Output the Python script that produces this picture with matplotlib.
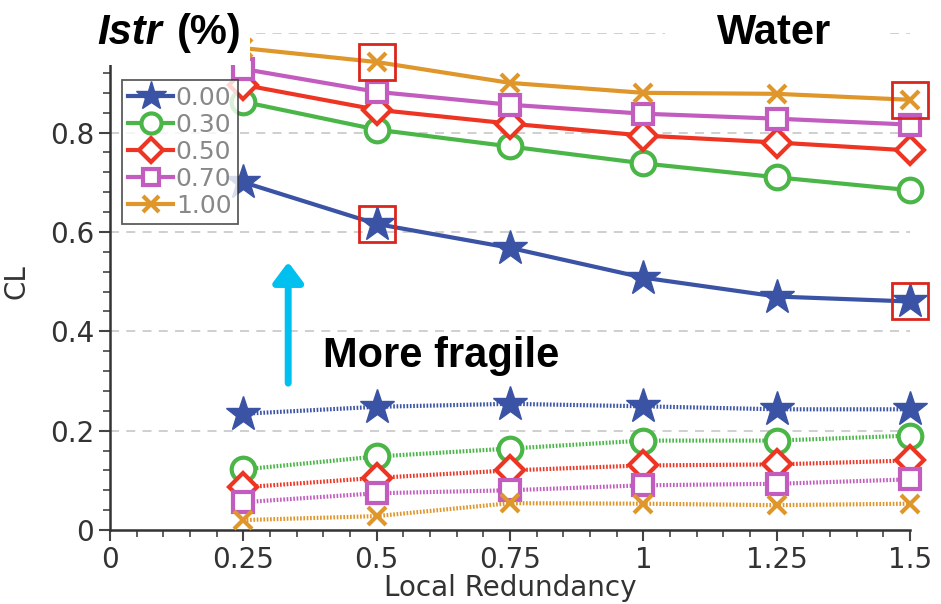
import matplotlib.pyplot as plt
from matplotlib.ticker import FixedLocator, MultipleLocator
from matplotlib.patches import Rectangle

plt.rcParams['font.family'] = ['Liberation Sans Narrow', 'DejaVu Sans']

redundancy = [0.25, 0.5, 0.75, 1.0, 1.25, 1.5]
labels = ['0.00', '0.30', '0.50', '0.70', '1.00']
colors = ['#3b53a4', '#4bb648', '#ee3524', '#c25dbf', '#df962b']
markers = ['*', 'o', 'D', 's', 'x']
x_ticks = [0, 0.25, 0.5, 0.75, 1.0, 1.25, 1.5]
x_ticklabels = ['0', '0.25', '0.5', '0.75', '1', '1.25', '1.5']
y_ticks = [0, 0.2, 0.4, 0.6, 0.8]
y_ticklabels = ['0', '0.2', '0.4', '0.6', '0.8']

# solid lines (upper group)
cl_solid = [
    [0.700, 0.616, 0.568, 0.508, 0.470, 0.460],
    [0.862, 0.806, 0.772, 0.738, 0.710, 0.684],
    [0.896, 0.846, 0.818, 0.794, 0.780, 0.764],
    [0.928, 0.882, 0.856, 0.838, 0.828, 0.816],
    [0.970, 0.942, 0.900, 0.880, 0.878, 0.866],
]
# dotted lines (lower group)
cl_dotted = [
    [0.234, 0.248, 0.254, 0.249, 0.243, 0.243],
    [0.122, 0.148, 0.164, 0.180, 0.180, 0.190],
    [0.086, 0.105, 0.120, 0.130, 0.132, 0.140],
    [0.056, 0.074, 0.080, 0.090, 0.093, 0.102],
    [0.020, 0.028, 0.054, 0.053, 0.050, 0.053],
]
# highlighted points: (series index, point index)
highlight = [(4, 1), (4, 5), (0, 1), (0, 5)]

fig = plt.figure(figsize=(9.41, 6.04), dpi=100)
ax = fig.add_axes([0.117, 0.1225, 0.850, 0.8225])

ms = [26, 17, 14, 14, 13]
for i in range(len(labels)):
    kw = dict(color=colors[i], marker=markers[i], markersize=ms[i], markeredgewidth=3,
              markerfacecolor=colors[i] if markers[i] in ('*', 'x') else 'white',
              markeredgecolor=colors[i], clip_on=False)
    if markers[i] == '*':
        kw['markeredgewidth'] = 1
    ax.plot(redundancy, cl_solid[i], linewidth=3, label=labels[i], zorder=3, **kw)
    ax.plot(redundancy, cl_dotted[i], linewidth=3, linestyle=(0, (0.4, 0.4)), zorder=3, **kw)

for s, p in highlight:
    ax.plot(redundancy[p], cl_solid[s][p], marker='s', markersize=26, markerfacecolor='none',
            markeredgecolor='#d9261c', markeredgewidth=2, zorder=4, clip_on=False)

ax.set_xlim(0, 1.5)
ax.set_ylim(0, 1.0)
ax.xaxis.set_major_locator(FixedLocator(x_ticks))
ax.xaxis.set_minor_locator(MultipleLocator(0.05))
ax.yaxis.set_major_locator(FixedLocator(y_ticks))
ax.yaxis.set_minor_locator(MultipleLocator(0.04))
ax.set_xticklabels(x_ticklabels)
ax.set_yticklabels(y_ticklabels)
ax.tick_params(axis='both', which='major', labelsize=20, labelcolor='#333333', length=8, width=1.5, color='#444444')
ax.tick_params(axis='both', which='minor', length=5, width=1.2, color='#444444')
for y in [0.2, 0.4, 0.6, 0.8, 1.0]:
    ax.axhline(y, color='#cccccc', linestyle=(0, (5, 4)), linewidth=1.3, zorder=1)
for side in ['top', 'right']:
    ax.spines[side].set_visible(False)
for side in ['left', 'bottom']:
    ax.spines[side].set_linewidth(1.8)
    ax.spines[side].set_color('#333333')
ax.set_xlabel('Local Redundancy', fontsize=20, color='#333333', labelpad=0)
ax.set_ylabel('CL', fontsize=20, color='#333333', labelpad=14)

leg = ax.legend(loc='upper left', bbox_to_anchor=(0.015, 0.906), fontsize=18, frameon=True,
                fancybox=False, edgecolor='#333333', labelcolor='#888888', handlelength=1.8,
                handletextpad=0.1, borderpad=0.25, labelspacing=0.12, borderaxespad=0,
                markerscale=0.85)
leg.get_frame().set_linewidth(1.3)
leg.set_zorder(5)

# arrow and annotation
ax.annotate('', xy=(0.334, 0.545), xytext=(0.334, 0.29),
            arrowprops=dict(arrowstyle='-|>,head_width=0.9,head_length=1.2', color='#00c0f0', lw=5))
ax.text(0.40, 0.35, 'More fragile', fontsize=30, fontweight='bold', family='Liberation Sans',
        va='center', ha='left', zorder=6)

# white boxes behind the titles
fig.patches.append(Rectangle((0, 1 - 65 / 604), 250 / 941, 65 / 604, transform=fig.transFigure,
                             facecolor='white', edgecolor='none', zorder=10))
fig.patches.append(Rectangle((665 / 941, 1 - 60 / 604), 220 / 941, 60 / 604, transform=fig.transFigure,
                             facecolor='white', edgecolor='none', zorder=10))
fig.text(97 / 941, 1 - 33 / 604, 'Istr', fontsize=30, fontweight='bold', fontstyle='italic',
         family='Liberation Sans', ha='left', va='center', zorder=11)
fig.text(242 / 941, 1 - 33 / 604, '(%)', fontsize=30, fontweight='bold', family='Liberation Sans',
         ha='right', va='center', zorder=11)
fig.text(774 / 941, 1 - 33 / 604, 'Water', fontsize=30, fontweight='bold', family='Liberation Sans',
         ha='center', va='center', zorder=11)

fig.savefig('out.png', dpi=100)
